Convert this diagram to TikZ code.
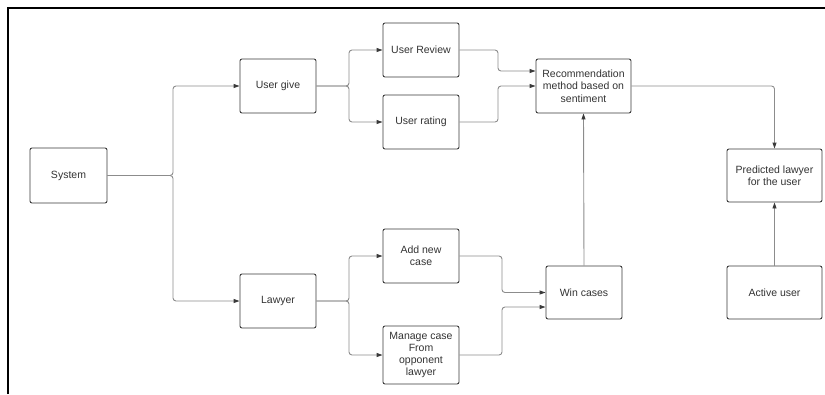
\documentclass[tikz,border=0pt]{standalone}
\usepackage{fontspec}
\setmainfont{Liberation Sans}
\usetikzlibrary{arrows.meta}
\definecolor{boxline}{HTML}{3A3A3A}
\definecolor{connline}{HTML}{8C8C8C}
\definecolor{tipcol}{HTML}{3A3A3A}
\definecolor{txt}{HTML}{333333}
\tikzset{
  box/.style={draw=boxline, line width=0.9pt, rounded corners=2pt, fill=white,
    align=center, text=txt, inner sep=1pt,
    font=\fontsize{10.5}{12.3}\selectfont},
  conn/.style={draw=connline, line width=0.9pt, rounded corners=3pt,
    -{Triangle[length=6pt,width=4pt,color=tipcol]}},
  plain/.style={draw=connline, line width=0.9pt, rounded corners=3pt},
}
\begin{document}
\begin{tikzpicture}[x=1pt,y=-1pt]
\useasboundingbox (0,0) rectangle (825,394);
\draw[line width=2pt, black] (7.8,394) -- (7.8,7.8) -- (825,7.8);

\node[box, minimum width=77pt, minimum height=55pt] (sys) at (68.5,175.5) {System};
\node[box, minimum width=76pt, minimum height=54pt] (ug) at (278,86) {User give};
\node[box, minimum width=76pt, minimum height=54pt] (law) at (278,301) {Lawyer};
\node[box, minimum width=76pt, minimum height=54pt] (ur) at (421,50) {User Review};
\node[box, minimum width=76pt, minimum height=54pt] (urt) at (421,122) {User rating};
\node[box, minimum width=76pt, minimum height=54pt] (anc) at (421,256) {Add new\\case};
\node[box, minimum width=76pt, minimum height=58pt] (mc) at (421,355) {Manage case\\From\\opponent\\lawyer};
\node[box, minimum width=95pt, minimum height=54pt] (rec) at (583.5,86) {Recommendation\\method based on\\sentiment};
\node[box, minimum width=76pt, minimum height=53pt] (win) at (584,292.5) {Win cases};
\node[box, minimum width=95pt, minimum height=53pt] (pred) at (774.5,175.5) {Predicted lawyer\\for the user};
\node[box, minimum width=95pt, minimum height=53pt] (act) at (774.5,292.5) {Active user};

\coordinate (j1) at (173,0);
\coordinate (j2) at (349,0);
\coordinate (j3) at (498,0);
\coordinate (j4) at (502,0);

\draw[conn] (sys.east) -- (sys.east -| j1) |- (ug.west);
\draw[conn] (sys.east) -- (sys.east -| j1) |- (law.west);

\draw[conn] (ug.east) -- (ug.east -| j2) |- (ur.west);
\draw[conn] (ug.east) -- (ug.east -| j2) |- (urt.west);

\draw[conn] (law.east) -- (law.east -| j2) |- (anc.west);
\draw[conn] (law.east) -- (law.east -| j2) |- (mc.west);

\draw[conn] (ur.east) -- (ur.east -| j3) |- ([yshift=15pt]rec.west);
\draw[conn] (urt.east) -- (urt.east -| j3) |- (rec.west);

\draw[conn] (anc.east) -- (anc.east -| j4) |- (win.west);
\draw[conn] (mc.east) -- (mc.east -| j4) |- ([yshift=-14.5pt]win.west);

\draw[conn] (win.north) -- (rec.south);
\draw[conn] (rec.east) -| (pred.north);
\draw[conn] (act.north) -- (pred.south);
\end{tikzpicture}
\end{document}
